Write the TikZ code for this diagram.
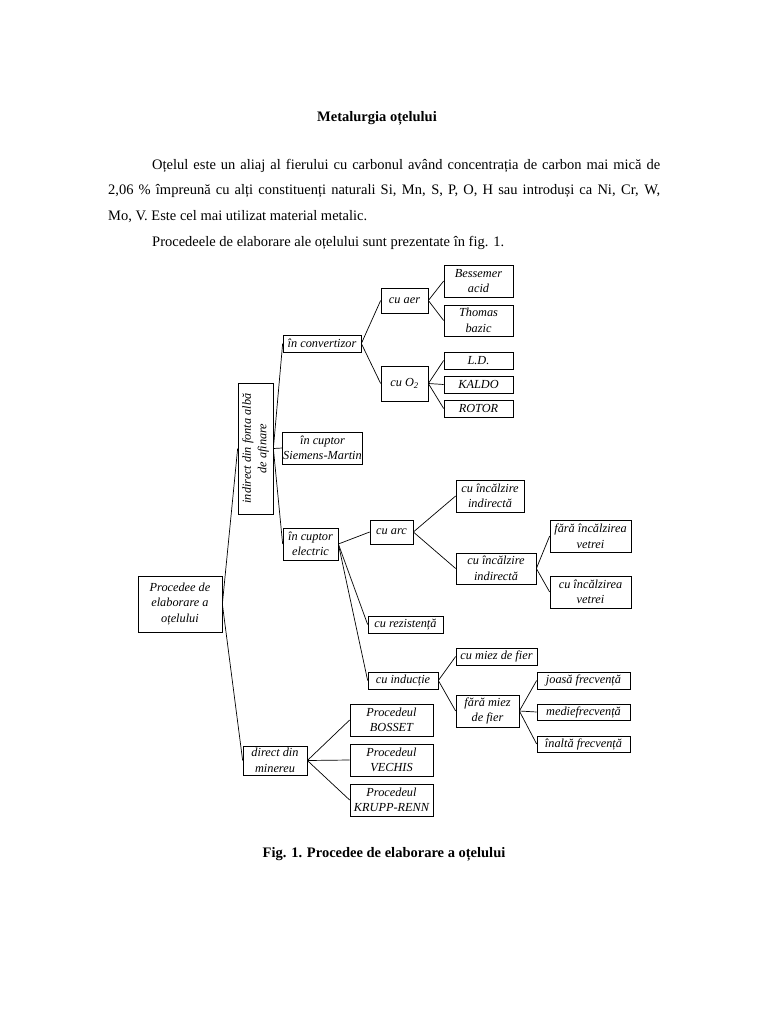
\documentclass[tikz,border=0pt]{standalone}
\usepackage{fontspec}
\setmainfont{Liberation Serif}
\tikzset{
  box/.style={draw, line width=0.7pt, inner sep=0.5pt, align=center,
    font=\fontsize{12.3}{15.5}\selectfont\itshape},
  sz/.style 2 args={minimum width=#1pt, minimum height=#2pt},
  link/.style={line width=0.7pt},
  body/.style={anchor=base west, inner sep=0pt, font=\fontsize{14.5}{16}\selectfont},
}
\begin{document}
\begin{tikzpicture}[x=1pt, y=-1pt]
  \useasboundingbox[fill=white] (0,0) rectangle (768,1024);

  % title and text
  \node[anchor=base, font=\fontsize{14.5}{16}\selectfont\bfseries] (title) at (377,122) {Metalurgia oțelului};
  \node[body] (l1) at (152,170) {\makebox[508pt][s]{Oțelul este un aliaj al fierului cu carbonul având concentrația de carbon mai mică de}};
  \node[body] (l2) at (108,195) {\makebox[552pt][s]{2,06 \% împreună cu alți constituenți naturali Si, Mn, S, P, O, H sau introduși ca Ni, Cr, W,}};
  \node[body] (l3) at (108,221) {Mo, V. Este cel mai utilizat material metalic.};
  \node[body] (l4) at (152,246) {Procedeele de elaborare ale oțelului sunt prezentate în fig. 1.};

  % root and first level
  \node[box, sz={84}{56}] (root) at (180,604) {Procedee de\\elaborare a\\oțelului};
  \node[box, sz={131}{35}, rotate=90] (indir) at (255.5,448.5) {indirect din fonta albă\\de afinare};
  \node[box, sz={64}{29}] (direct) at (275,760.5) {direct din\\minereu};

  % indirect branch
  \node[box, sz={78}{17}] (conv) at (322,343.5) {în convertizor};
  \node[box, sz={79}{32}] (siem) at (322.5,448) {în cuptor\\Siemens-Martin};
  \node[box, sz={55}{32}] (elec) at (310.5,544) {în cuptor\\electric};

  % converter
  \node[box, sz={47}{25}] (aer) at (404.5,300.5) {cu aer};
  \node[box, sz={47}{35}] (oxy) at (404.5,383.5) {cu O\textsubscript{2}};
  \node[box, sz={69}{32}] (bess) at (478.5,281) {Bessemer\\acid};
  \node[box, sz={69}{31}] (thom) at (478.5,320.5) {Thomas\\bazic};
  \node[box, sz={69}{17}] (ld) at (478.5,360.5) {L.D.};
  \node[box, sz={69}{17}] (kaldo) at (478.5,384.5) {KALDO};
  \node[box, sz={69}{17}] (rotor) at (478.5,408.5) {ROTOR};

  % electric furnace
  \node[box, sz={43}{24}] (arc) at (391.5,532) {cu arc};
  \node[box, sz={68}{32}] (inc1) at (490,496) {cu încălzire\\indirectă};
  \node[box, sz={80}{31}] (inc2) at (496,568.5) {cu încălzire\\indirectă};
  \node[box, sz={81}{32}] (fara) at (590.5,536) {fără încălzirea\\vetrei};
  \node[box, sz={81}{32}] (cuinc) at (590.5,592) {cu încălzirea\\vetrei};
  \node[box, sz={75}{17}] (rez) at (405.5,624.5) {cu rezistență};
  \node[box, sz={70}{17}] (ind) at (403,680.5) {cu inducție};
  \node[box, sz={81}{17}] (miez) at (496.5,656.5) {cu miez de fier};
  \node[box, sz={63}{32}] (faramiez) at (487.5,711) {fără miez\\de fier};
  \node[box, sz={93}{17}] (joasa) at (583.5,680.5) {joasă frecvență};
  \node[box, sz={93}{16}] (medie) at (583.5,712) {mediefrecvență};
  \node[box, sz={93}{16}] (inalta) at (583.5,744) {înaltă frecvență};

  % direct branch
  \node[box, sz={83}{32}] (bos) at (391.5,720) {Procedeul\\BOSSET};
  \node[box, sz={83}{32}] (vech) at (391.5,760) {Procedeul\\VECHIS};
  \node[box, sz={83}{32}] (krupp) at (391.5,800) {Procedeul\\KRUPP-RENN};

  % connectors
  \draw[link] (root.east) -- (indir.north);
  \draw[link] (root.east) -- (direct.west);
  \foreach \c in {conv,siem,elec} \draw[link] (indir.south) -- (\c.west);
  \foreach \c in {aer,oxy} \draw[link] (conv.east) -- (\c.west);
  \foreach \c in {bess,thom} \draw[link] (aer.east) -- (\c.west);
  \foreach \c in {ld,kaldo,rotor} \draw[link] (oxy.east) -- (\c.west);
  \foreach \c in {arc,rez,ind} \draw[link] (elec.east) -- (\c.west);
  \foreach \c in {inc1,inc2} \draw[link] (arc.east) -- (\c.west);
  \foreach \c in {fara,cuinc} \draw[link] (inc2.east) -- (\c.west);
  \foreach \c in {miez,faramiez} \draw[link] (ind.east) -- (\c.west);
  \foreach \c in {joasa,medie,inalta} \draw[link] (faramiez.east) -- (\c.west);
  \foreach \c in {bos,vech,krupp} \draw[link] (direct.east) -- (\c.west);

  % caption
  \node[anchor=base, font=\fontsize{14.5}{16}\selectfont\bfseries] (caption) at (384,857) {Fig. 1. Procedee de elaborare a oțelului};
\end{tikzpicture}
\end{document}
